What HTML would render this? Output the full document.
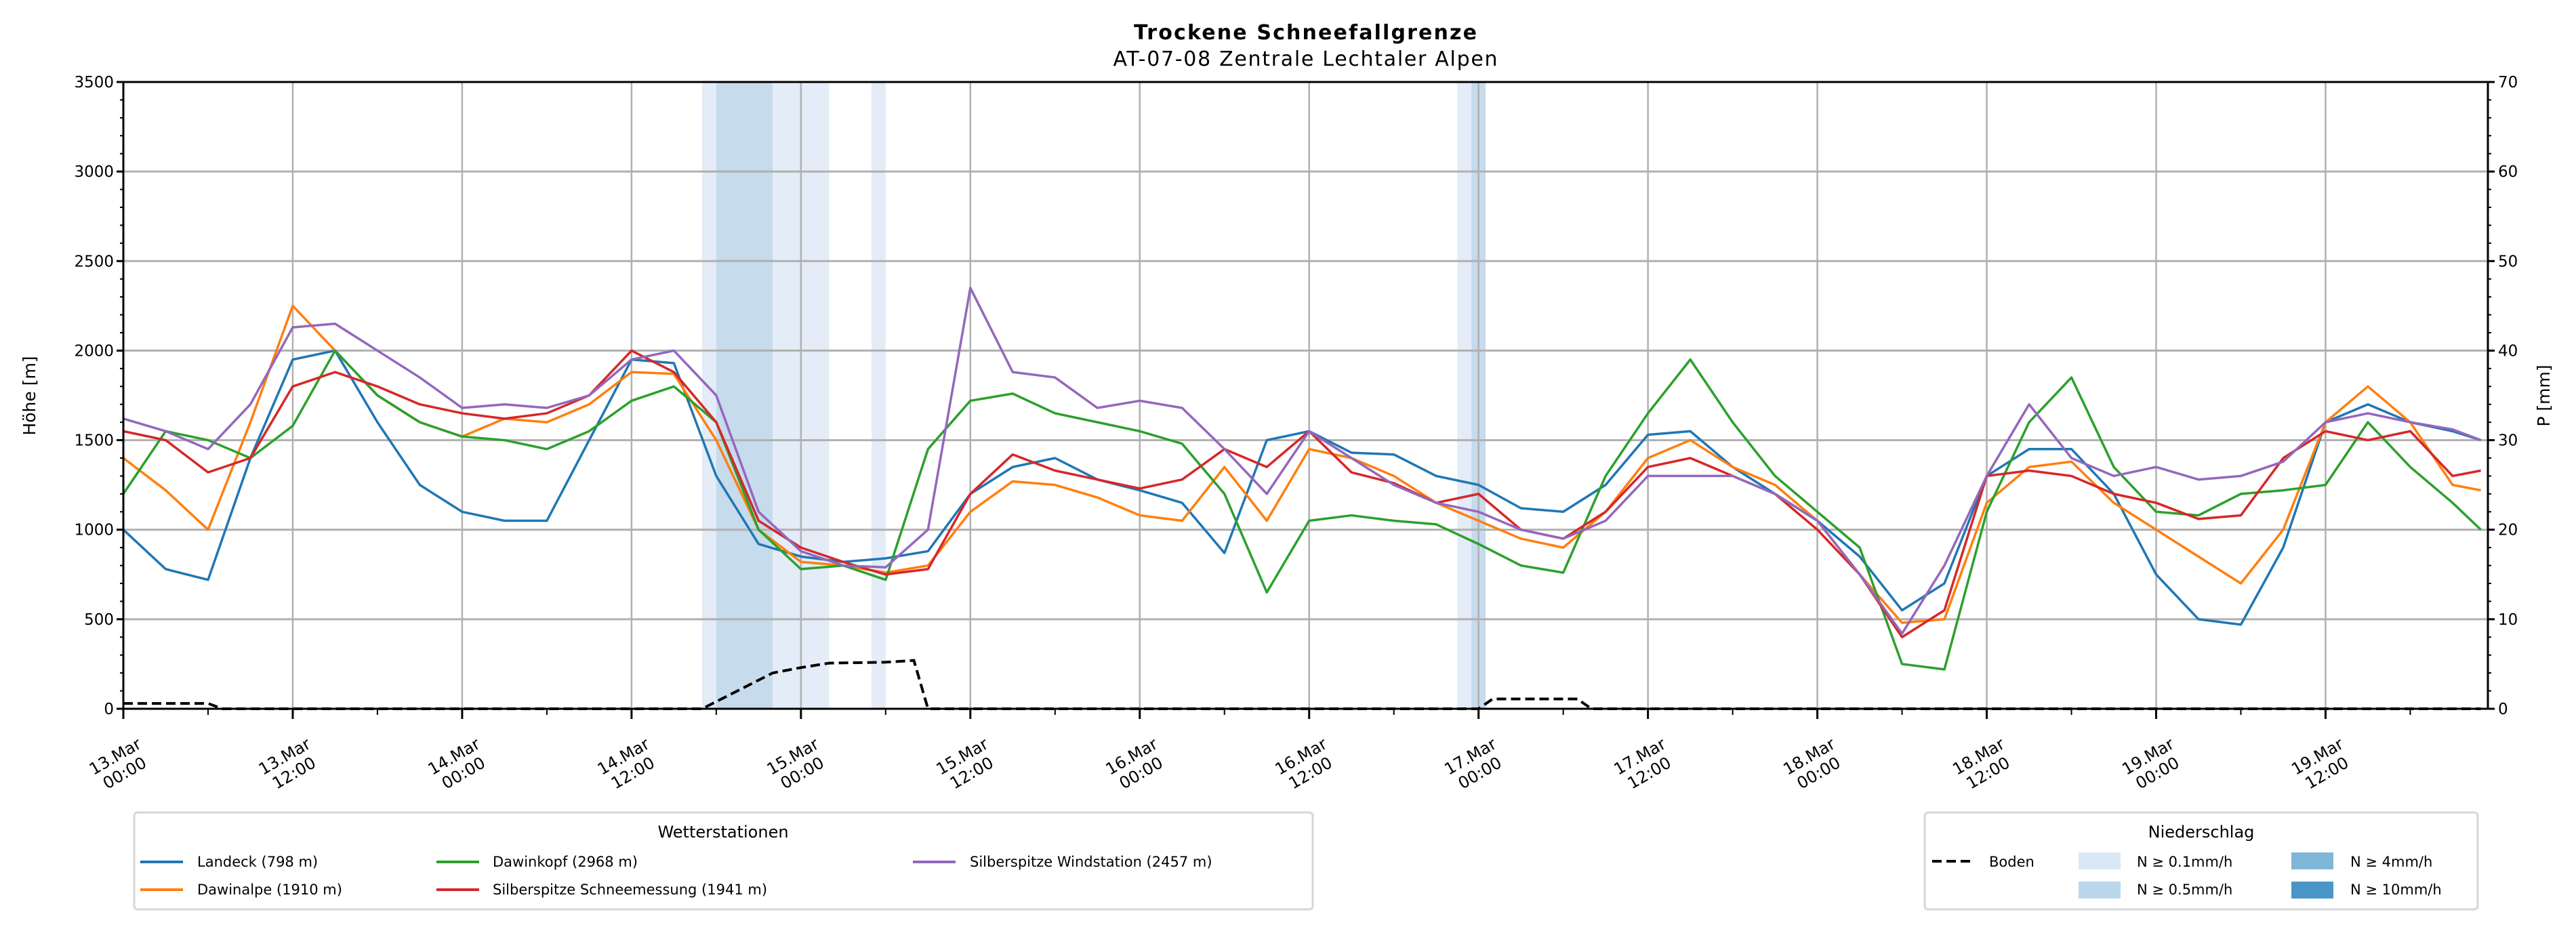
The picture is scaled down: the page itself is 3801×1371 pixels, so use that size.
<!DOCTYPE html>
<html><head><meta charset="utf-8"><style>
html,body{margin:0;padding:0;background:#fff}
svg{display:block;font-family:"DejaVu Sans","Liberation Sans",sans-serif}
</style></head><body>
<svg id="chart" width="3801" height="1371" viewBox="0 0 3801 1371" xmlns="http://www.w3.org/2000/svg">
<text x="1926" y="58" text-anchor="middle" font-weight="bold" font-size="30" textLength="506">Trockene Schneefallgrenze</text>
<text x="1926" y="97" text-anchor="middle" font-size="30" textLength="567">AT-07-08 Zentrale Lechtaler Alpen</text>
<g id="precip"></g>
<g id="grid"></g>
<g id="series"></g>
<g id="axes"></g>
<text transform="translate(52,584) rotate(-90)" text-anchor="middle" font-size="25">Höhe [m]</text>
<text transform="translate(3762,584) rotate(-90)" text-anchor="middle" font-size="25">P [mm]</text>

<g>
<rect x="198" y="1199" width="1739" height="143" rx="5" fill="#fff" stroke="#d6d6d6" stroke-width="3"/>
<text x="1067" y="1236" text-anchor="middle" font-size="24">Wetterstationen</text>
<g><line x1="207" y1="1272" x2="270" y2="1272" stroke="#1f77b4" stroke-width="4"/><text x="291" y="1279" font-size="21">Landeck (798 m)</text></g>
<g><line x1="207" y1="1313" x2="270" y2="1313" stroke="#ff7f0e" stroke-width="4"/><text x="291" y="1320" font-size="21">Dawinalpe (1910 m)</text></g>
<g><line x1="644" y1="1272" x2="707" y2="1272" stroke="#2ca02c" stroke-width="4"/><text x="727" y="1279" font-size="21">Dawinkopf (2968 m)</text></g>
<g><line x1="644" y1="1313" x2="707" y2="1313" stroke="#d62728" stroke-width="4"/><text x="727" y="1320" font-size="21">Silberspitze Schneemessung (1941 m)</text></g>
<g><line x1="1347" y1="1272" x2="1410" y2="1272" stroke="#9467bd" stroke-width="4"/><text x="1431" y="1279" font-size="21">Silberspitze Windstation (2457 m)</text></g>
</g>

<g>
<rect x="2840" y="1199" width="816" height="143" rx="5" fill="#fff" stroke="#d6d6d6" stroke-width="3"/>
<text x="3248" y="1236" text-anchor="middle" font-size="24">Niederschlag</text>
<g><line x1="2851" y1="1271" x2="2907" y2="1271" stroke="#000" stroke-width="4" stroke-dasharray="14,7"/><text x="2935" y="1279" font-size="21">Boden</text></g>
<g><rect x="3067" y="1258" width="62" height="25" fill="#dae8f5"/><text x="3153" y="1279" font-size="21">N ≥ 0.1mm/h</text></g>
<g><rect x="3067" y="1301" width="62" height="25" fill="#bad6eb"/><text x="3153" y="1320" font-size="21">N ≥ 0.5mm/h</text></g>
<g><rect x="3381" y="1258" width="62" height="25" fill="#80b6d8"/><text x="3468" y="1279" font-size="21">N ≥ 4mm/h</text></g>
<g><rect x="3381" y="1301" width="62" height="25" fill="#4a96c8"/><text x="3468" y="1320" font-size="21">N ≥ 10mm/h</text></g>
</g>
</svg>
<script>
const hours = [0,3,6,9,12,15,18,21,24,27,30,33,36,39,42,45,48,51,54,57,60,63,66,69,72,75,78,81,84,87,90,93,96,99,102,105,108,111,114,117,120,123,126,129,132,135,138,141,144,147,150,153,156,159,162,165,167];
const landeck = [1000,780,720,1400,1950,2000,1600,1250,1100,1050,1050,1500,1950,1930,1300,920,850,820,840,880,1200,1350,1400,1280,1220,1150,870,1500,1550,1430,1420,1300,1250,1120,1100,1250,1530,1550,1350,1200,1050,850,550,700,1300,1450,1450,1200,750,500,470,900,1600,1700,1600,1550,1500];
const dawinalpe = [1400,1220,1000,1600,2250,2000,1750,1600,1520,1620,1600,1700,1880,1870,1500,1000,820,800,760,800,1100,1270,1250,1180,1080,1050,1350,1050,1450,1400,1300,1150,1050,950,900,1100,1400,1500,1350,1250,1050,750,480,500,1150,1350,1380,1150,1000,850,700,1000,1600,1800,1600,1250,1220];
const dawinkopf = [1200,1550,1500,1400,1580,2000,1750,1600,1520,1500,1450,1550,1720,1800,1600,1000,780,800,720,1450,1720,1760,1650,1600,1550,1480,1200,650,1050,1080,1050,1030,920,800,760,1300,1650,1950,1600,1300,1100,900,250,220,1100,1600,1850,1350,1100,1080,1200,1220,1250,1600,1350,1150,1000];
const schneemessung = [1550,1500,1320,1400,1800,1880,1800,1700,1650,1620,1650,1750,2000,1880,1600,1050,900,820,750,780,1200,1420,1330,1280,1230,1280,1450,1350,1550,1320,1260,1150,1200,1000,950,1100,1350,1400,1300,1200,1000,750,400,550,1300,1330,1300,1200,1150,1060,1080,1400,1550,1500,1550,1300,1330];
const windstation = [1620,1550,1450,1700,2130,2150,2000,1850,1680,1700,1680,1750,1950,2000,1750,1100,880,800,790,1000,2350,1880,1850,1680,1720,1680,1450,1200,1550,1400,1250,1150,1100,1000,950,1050,1300,1300,1300,1200,1050,750,420,800,1300,1700,1400,1300,1350,1280,1300,1380,1600,1650,1600,1560,1500];
const bodenHours = [0,6,7,41,44,46,48,50,54,56,57,96,97,103,104,167];
const bodenValues = [30,30,0,0,120,200,230,255,260,270,0,0,55,55,0,0];
const precipStart = [41,42,46,53,94.5,95.5];
const precipEnd = [50,46,50,54,96.5,96.5];
const precipLevel = [1,2,1,1,1,2];
const yTicks = [0,500,1000,1500,2000,2500,3000,3500];
const y2Ticks = [0,10,20,30,40,50,60,70];
const xTickHours = [0,12,24,36,48,60,72,84,96,108,120,132,144,156];
const xTickDays = ["13.Mar","13.Mar","14.Mar","14.Mar","15.Mar","15.Mar","16.Mar","16.Mar","17.Mar","17.Mar","18.Mar","18.Mar","19.Mar","19.Mar"];
const xTickTimes = ["00:00","12:00","00:00","12:00","00:00","12:00","00:00","12:00","00:00","12:00","00:00","12:00","00:00","12:00"];

const L=182,R=3671,T=121,B=1046;
const x=h=>L+h*(R-L)/167.5;
const y=v=>B-v*(B-T)/3500;
const NS="http://www.w3.org/2000/svg";
function mk(tag,parent,attrs){const e=document.createElementNS(NS,tag);for(const k in attrs)e.setAttribute(k,attrs[k]);parent.appendChild(e);return e;}
const gP=document.getElementById('precip'),gG=document.getElementById('grid'),gS=document.getElementById('series'),gA=document.getElementById('axes');
const pcol=["","#e3ecf7","#c6dbec"];
precipStart.forEach((s,i)=>{
 const r=mk('rect',gP,{x:x(s),y:T,width:x(precipEnd[i])-x(s),height:B-T,fill:pcol[precipLevel[i]]});
 
 
});
yTicks.forEach(v=>{
 const l=mk('line',gG,{x1:L,x2:R,y1:y(v),y2:y(v),stroke:'#b0b0b0','stroke-width':3});
 
 
 const t=mk('text',gA,{x:L-14,y:y(v)+8,'text-anchor':'end','font-size':23});
 t.textContent=v;
 
 
 mk('line',gA,{x1:L-10,x2:L,y1:y(v),y2:y(v),stroke:'#000','stroke-width':3});
});
for(let v=100;v<3500;v+=100){if(v%500)mk('line',gA,{x1:L-5,x2:L,y1:y(v),y2:y(v),stroke:'#000','stroke-width':2});}
y2Ticks.forEach(v=>{
 const yy=y(v*50);
 const t=mk('text',gA,{x:R+15,y:yy+8,'font-size':23});
 t.textContent=v;
 
 
 mk('line',gA,{x1:R,x2:R+10,y1:yy,y2:yy,stroke:'#000','stroke-width':3});
});
for(let v=2;v<70;v+=2){if(v%10)mk('line',gA,{x1:R,x2:R+5,y1:y(v*50),y2:y(v*50),stroke:'#000','stroke-width':2});}
xTickHours.forEach((h,i)=>{
 const l=mk('line',gG,{x1:x(h),x2:x(h),y1:T,y2:B,stroke:'#b0b0b0','stroke-width':2.5});
 
 
 mk('line',gA,{x1:x(h),x2:x(h),y1:B,y2:B+15,stroke:'#000','stroke-width':3});
 const t=mk('text',gA,{transform:`translate(${x(h)-6},${1127}) rotate(-30)`,'text-anchor':'middle','font-size':24});
 
 
 const a=mk('tspan',t,{x:0,y:-4});a.textContent=xTickDays[i];
 const b=mk('tspan',t,{x:0,y:24});b.textContent=xTickTimes[i];
});
for(let h=6;h<167;h+=12)mk('line',gA,{x1:x(h),x2:x(h),y1:B,y2:B+9,stroke:'#000','stroke-width':2});
const series=[[landeck,'#1f77b4','series-landeck'],[dawinalpe,'#ff7f0e','series-dawinalpe'],[dawinkopf,'#2ca02c','series-dawinkopf'],[schneemessung,'#d62728','series-silberspitze-schneemessung'],[windstation,'#9467bd','series-silberspitze-windstation']];
series.forEach(([vals,c,n])=>{
 const p=mk('polyline',gS,{points:vals.map((v,i)=>x(hours[i])+','+y(v)).join(' '),fill:'none',stroke:c,'stroke-width':3.5,'stroke-linejoin':'round'});
 
 
});
const bd=mk('polyline',gS,{points:bodenHours.map((h,i)=>x(h)+','+y(bodenValues[i])).join(' '),fill:'none',stroke:'#000','stroke-width':4,'stroke-dasharray':'14,7'});


mk('rect',gA,{x:L,y:T,width:R-L,height:B-T,fill:'none',stroke:'#000','stroke-width':3});
</script>
</body></html>
